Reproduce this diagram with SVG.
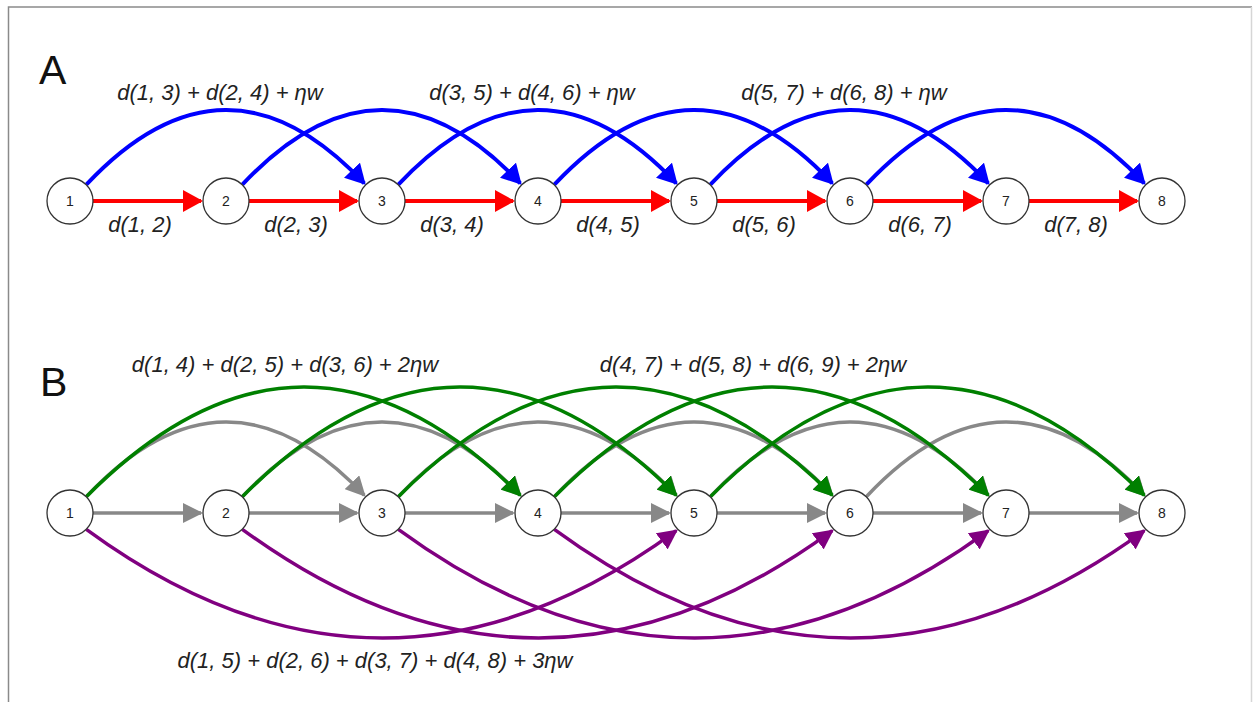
<svg xmlns="http://www.w3.org/2000/svg" width="1253" height="702" viewBox="0 0 1253 702">
<defs>
<style>
.node circle{fill:#fff;stroke:#333;stroke-width:1.3}
.node text{font-family:"Liberation Sans",Arial,sans-serif;font-size:14px;fill:#222;text-anchor:middle;dominant-baseline:central}
.lbl{font-family:"Liberation Sans",Arial,sans-serif;font-size:22px;font-style:italic;fill:#222;text-anchor:middle}
.big{font-family:"Liberation Sans",Arial,sans-serif;font-size:41px;fill:#111}
.e{fill:none}
.red{stroke:#ff0000;stroke-width:4;marker-end:url(#mRed)}
.blue{stroke:#0000ff;stroke-width:4;marker-end:url(#mBlue)}
.gray{stroke:#888888;stroke-width:3.5;marker-end:url(#mGray)}
.green{stroke:#008000;stroke-width:3.5;marker-end:url(#mGreen)}
.purple{stroke:#800080;stroke-width:3.5;marker-end:url(#mPurple)}
</style>
<marker id="mRed" markerUnits="userSpaceOnUse" markerWidth="20" markerHeight="22" refX="18" refY="11" orient="auto"><path d="M0,0L20,11L0,22z" fill="#ff0000"/></marker>
<marker id="mBlue" markerUnits="userSpaceOnUse" markerWidth="20" markerHeight="22" refX="18" refY="11" orient="auto"><path d="M0,0L20,11L0,22z" fill="#0000ff"/></marker>
<marker id="mGray" markerUnits="userSpaceOnUse" markerWidth="20" markerHeight="20" refX="18" refY="10" orient="auto"><path d="M0,0L20,10L0,20z" fill="#888888"/></marker>
<marker id="mGreen" markerUnits="userSpaceOnUse" markerWidth="20" markerHeight="20" refX="18" refY="10" orient="auto"><path d="M0,0L20,10L0,20z" fill="#008000"/></marker>
<marker id="mPurple" markerUnits="userSpaceOnUse" markerWidth="20" markerHeight="20" refX="18" refY="10" orient="auto"><path d="M0,0L20,10L0,20z" fill="#800080"/></marker>
</defs>
<rect width="1253" height="702" fill="#fff"/>
<g id="frame" fill="none">
<path d="M8.5,703V7H1252" stroke="#8a8a8a" stroke-width="1.5"/>
<path d="M1251.5,7V703" stroke="#d6d6d6" stroke-width="1.5"/>
</g>
<text class="big" x="39" y="84">A</text>
<text class="big" x="40" y="396">B</text>
<g id="connectors">
<g class="e">
<path class="red" d="M93,201H201"/>
<path class="red" d="M249,201H357"/>
<path class="red" d="M405,201H513"/>
<path class="red" d="M561,201H669"/>
<path class="red" d="M717,201H825"/>
<path class="red" d="M873,201H981"/>
<path class="red" d="M1029,201H1137"/>
<path class="blue" d="M86.3,184.7Q226,36 364.3,183.3"/>
<path class="blue" d="M242.3,184.7Q382,36 520.3,183.3"/>
<path class="blue" d="M398.3,184.7Q538,36 676.3,183.3"/>
<path class="blue" d="M554.3,184.7Q694,36 832.3,183.3"/>
<path class="blue" d="M710.3,184.7Q850,36 988.3,183.3"/>
<path class="blue" d="M866.3,184.7Q1006,36 1144.3,183.3"/>
<path class="gray" d="M86.3,496.7Q226,348 364.3,495.3"/>
<path class="gray" d="M242.3,496.7Q382,348 520.3,495.3"/>
<path class="gray" d="M398.3,496.7Q538,348 676.3,495.3"/>
<path class="gray" d="M554.3,496.7Q694,348 832.3,495.3"/>
<path class="gray" d="M710.3,496.7Q850,348 988.3,495.3"/>
<path class="gray" d="M866.3,496.7Q1006,348 1144.3,495.3"/>
<path class="green" d="M86.3,496.7Q304,278 520.3,495.3"/>
<path class="green" d="M242.3,496.7Q460,278 676.3,495.3"/>
<path class="green" d="M398.3,496.7Q616,278 832.3,495.3"/>
<path class="green" d="M554.3,496.7Q772,278 988.3,495.3"/>
<path class="green" d="M710.3,496.7Q928,278 1144.3,495.3"/>
<path class="purple" d="M86.3,529.3Q382,746 676.3,530.7"/>
<path class="purple" d="M242.3,529.3Q538,746 832.3,530.7"/>
<path class="purple" d="M398.3,529.3Q694,746 988.3,530.7"/>
<path class="purple" d="M554.3,529.3Q850,746 1144.3,530.7"/>
<path class="gray" d="M93,513H201"/>
<path class="gray" d="M249,513H357"/>
<path class="gray" d="M405,513H513"/>
<path class="gray" d="M561,513H669"/>
<path class="gray" d="M717,513H825"/>
<path class="gray" d="M873,513H981"/>
<path class="gray" d="M1029,513H1137"/>
</g>
<text class="lbl" x="220" y="100">d(1, 3) + d(2, 4) + ηw</text>
<text class="lbl" x="532" y="100">d(3, 5) + d(4, 6) + ηw</text>
<text class="lbl" x="844" y="100">d(5, 7) + d(6, 8) + ηw</text>
<text class="lbl" x="140" y="232">d(1, 2)</text>
<text class="lbl" x="296" y="232">d(2, 3)</text>
<text class="lbl" x="452" y="232">d(3, 4)</text>
<text class="lbl" x="608" y="232">d(4, 5)</text>
<text class="lbl" x="764" y="232">d(5, 6)</text>
<text class="lbl" x="920" y="232">d(6, 7)</text>
<text class="lbl" x="1076" y="232">d(7, 8)</text>
<text class="lbl" x="285" y="372">d(1, 4) + d(2, 5) + d(3, 6) + 2ηw</text>
<text class="lbl" x="753" y="372">d(4, 7) + d(5, 8) + d(6, 9) + 2ηw</text>
<text class="lbl" x="375" y="668">d(1, 5) + d(2, 6) + d(3, 7) + d(4, 8) + 3ηw</text>
</g>
<g id="nA1" class="node"><circle cx="70" cy="201" r="23"/><text x="70" y="201">1</text></g>
<g id="nA2" class="node"><circle cx="226" cy="201" r="23"/><text x="226" y="201">2</text></g>
<g id="nA3" class="node"><circle cx="382" cy="201" r="23"/><text x="382" y="201">3</text></g>
<g id="nA4" class="node"><circle cx="538" cy="201" r="23"/><text x="538" y="201">4</text></g>
<g id="nA5" class="node"><circle cx="694" cy="201" r="23"/><text x="694" y="201">5</text></g>
<g id="nA6" class="node"><circle cx="850" cy="201" r="23"/><text x="850" y="201">6</text></g>
<g id="nA7" class="node"><circle cx="1006" cy="201" r="23"/><text x="1006" y="201">7</text></g>
<g id="nA8" class="node"><circle cx="1162" cy="201" r="23"/><text x="1162" y="201">8</text></g>
<g id="nB1" class="node"><circle cx="70" cy="513" r="23"/><text x="70" y="513">1</text></g>
<g id="nB2" class="node"><circle cx="226" cy="513" r="23"/><text x="226" y="513">2</text></g>
<g id="nB3" class="node"><circle cx="382" cy="513" r="23"/><text x="382" y="513">3</text></g>
<g id="nB4" class="node"><circle cx="538" cy="513" r="23"/><text x="538" y="513">4</text></g>
<g id="nB5" class="node"><circle cx="694" cy="513" r="23"/><text x="694" y="513">5</text></g>
<g id="nB6" class="node"><circle cx="850" cy="513" r="23"/><text x="850" y="513">6</text></g>
<g id="nB7" class="node"><circle cx="1006" cy="513" r="23"/><text x="1006" y="513">7</text></g>
<g id="nB8" class="node"><circle cx="1162" cy="513" r="23"/><text x="1162" y="513">8</text></g>
</svg>
